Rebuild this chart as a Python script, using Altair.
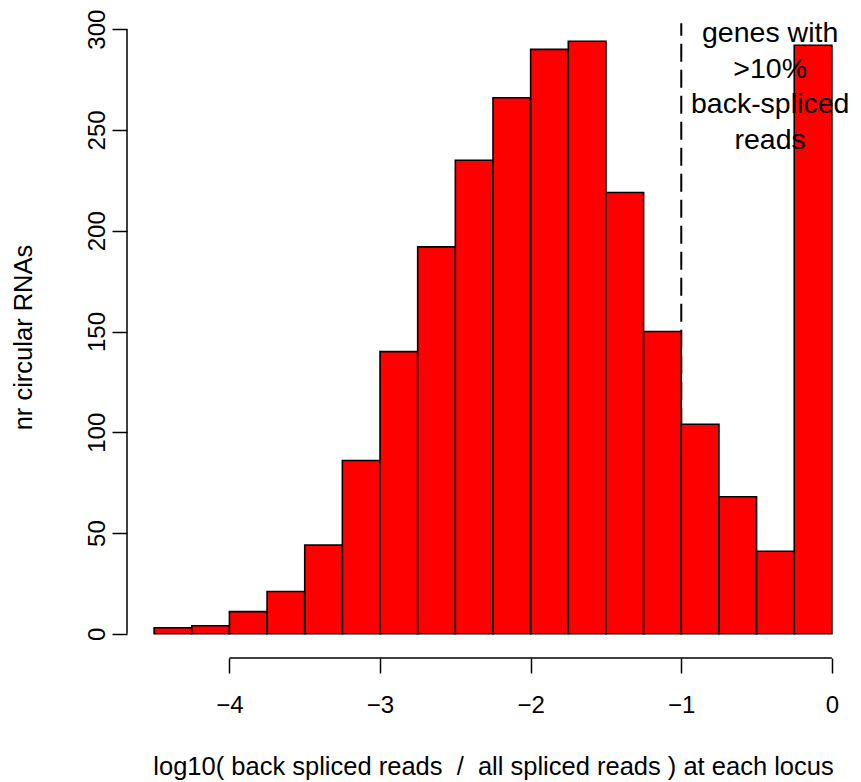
import altair as alt
import pandas as pd

bin_start = [-4.5, -4.25, -4.0, -3.75, -3.5, -3.25, -3.0, -2.75, -2.5, -2.25,
             -2.0, -1.75, -1.5, -1.25, -1.0, -0.75, -0.5, -0.25]
bin_end = [-4.25, -4.0, -3.75, -3.5, -3.25, -3.0, -2.75, -2.5, -2.25, -2.0,
           -1.75, -1.5, -1.25, -1.0, -0.75, -0.5, -0.25, 0.0]
counts = [3, 4, 11, 21, 44, 86, 140, 192, 235, 266,
          290, 294, 219, 150, 104, 68, 41, 292]
x_ticks = [-4, -3, -2, -1, 0]
y_ticks = [0, 50, 100, 150, 200, 250, 300]
threshold = [-1]
note_lines = ["genes with", ">10%", "back-spliced", "reads"]

FONT = "Liberation Sans"
W, H = 732, 653
NB = "\u00a0"

df = pd.DataFrame({"start": bin_start, "end": bin_end, "count": counts})

xs = alt.Scale(domain=[-4.68, 0.18], nice=False, zero=False)
ys = alt.Scale(domain=[-12, 312], nice=False, zero=False)

x_title = ("log10(" + NB + "back spliced reads" + NB * 2 + "/" + NB * 2 +
           "all spliced reads" + NB + ")" + NB + "at each locus")

x_axis = alt.Axis(values=x_ticks, format="d", domain=False, grid=False, tickSize=15, tickWidth=1.5,
                  tickColor="black", labelFont=FONT, labelFontSize=24, labelColor="black",
                  labelPadding=32, labelBaseline="middle", labelFlush=False,
                  title=x_title,
                  titleFont=FONT, titleFontSize=25.5, titleFontWeight="normal", titleColor="black",
                  titleX=W / 2, titleY=108, titleBaseline="middle", titleAlign="center")
y_axis = alt.Axis(values=y_ticks, format="d", domain=False, grid=False, tickSize=15, tickWidth=1.5,
                  tickColor="black", labelFont=FONT, labelFontSize=24, labelColor="black",
                  labelAngle=270, labelAlign="center", labelBaseline="bottom",
                  labelPadding=3, labelFlush=False,
                  title="nr circular RNAs", titleFont=FONT, titleFontSize=25.5,
                  titleFontWeight="normal", titleColor="black",
                  titleX=-104, titleY=332, titleAngle=270, titleBaseline="middle",
                  titleAlign="center")

bars = alt.Chart(df).mark_rect(fill="#FF0000", stroke="black", strokeWidth=1.6).encode(
    x=alt.X("start:Q", scale=xs, axis=x_axis),
    x2="end:Q",
    y=alt.Y("count:Q", scale=ys, axis=y_axis),
    y2=alt.datum(0),
)

tick_df = pd.DataFrame({"lo": [min(x_ticks)], "hi": [max(x_ticks)],
                        "ylo": [min(y_ticks)], "yhi": [max(y_ticks)]})

x_line = alt.Chart(tick_df).mark_rule(color="black", strokeWidth=1.5).encode(
    x=alt.X("lo:Q", scale=xs), x2="hi:Q", y=alt.value(H))
y_line = alt.Chart(tick_df).mark_rule(color="black", strokeWidth=1.5).encode(
    y=alt.Y("ylo:Q", scale=ys), y2="yhi:Q", x=alt.value(0))

thr_df = pd.DataFrame({"x": threshold})
dash = alt.Chart(thr_df).mark_rule(color="black", strokeWidth=2, strokeDash=[18, 8]).encode(
    x=alt.X("x:Q", scale=xs), y=alt.datum(0, scale=ys), y2=alt.datum(303))

note_df = pd.DataFrame({"t": ["\n".join(note_lines)]})
note = alt.Chart(note_df).mark_text(font=FONT, fontSize=28.5, color="black", align="center",
                                    baseline="middle", lineBreak="\n", lineHeight=35.7).encode(
    text="t:N", x=alt.datum(-0.41, scale=xs), y=alt.datum(298.2, scale=ys))

chart = alt.layer(dash, bars, x_line, y_line, note).properties(
    width=W, height=H,
    autosize=alt.AutoSizeParams(type="none"),
    padding={"left": 127, "top": 5, "right": 2, "bottom": 124},
    background="white",
).configure_view(stroke=None)

chart.save("out.html", embed_options={"renderer": "svg", "actions": False})
